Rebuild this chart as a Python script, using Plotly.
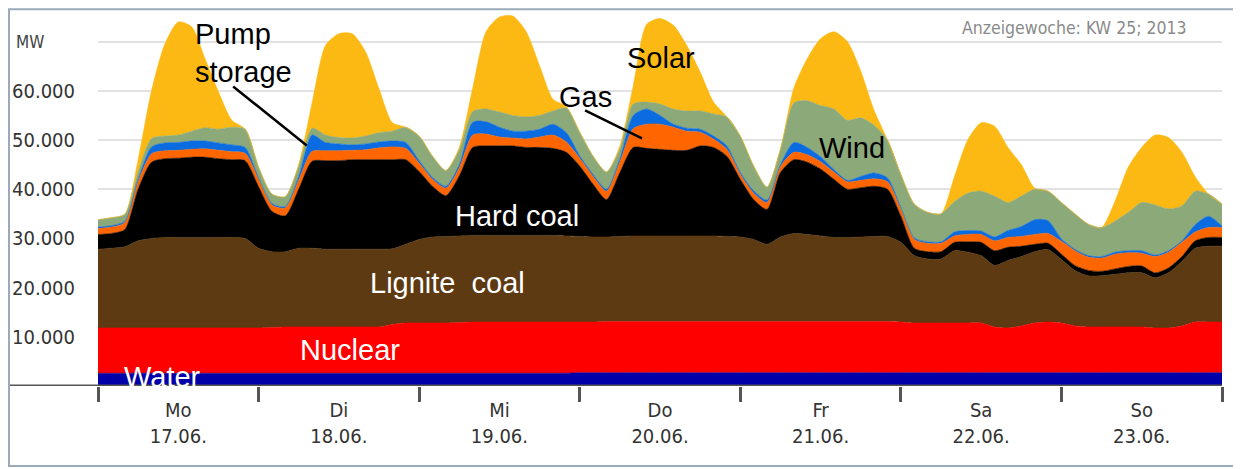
import plotly.graph_objects as go

# hours since Monday 17.06.2013 00:00, one sample every 2 h
hours = list(range(0, 169, 2))

# generation per source in MW (rows = Mo, Di, Mi, Do, Fr, Sa, So, last point)
water = [
    2600, 2600, 2600, 2600, 2600, 2600, 2600, 2600, 2600, 2600, 2600, 2600,
    2600, 2600, 2600, 2600, 2600, 2600, 2600, 2600, 2600, 2600, 2600, 2600,
    2600, 2600, 2600, 2600, 2600, 2600, 2600, 2600, 2600, 2600, 2600, 2600,
    2700, 2700, 2700, 2700, 2700, 2700, 2700, 2700, 2700, 2700, 2700, 2700,
    2700, 2700, 2700, 2700, 2700, 2700, 2700, 2700, 2700, 2700, 2700, 2700,
    2700, 2700, 2700, 2700, 2700, 2700, 2700, 2700, 2700, 2700, 2700, 2700,
    2700, 2700, 2700, 2700, 2700, 2700, 2700, 2700, 2700, 2700, 2700, 2700,
    2700,
]
nuclear = [
    9200, 9200, 9200, 9200, 9200, 9200, 9200, 9200, 9200, 9200, 9200, 9200,
    9200, 9300, 9400, 9400, 9400, 9400, 9400, 9400, 9400, 9400, 9900, 10200,
    10200, 10200, 10200, 10300, 10400, 10400, 10400, 10400, 10400, 10400, 10400, 10400,
    10300, 10300, 10400, 10400, 10400, 10400, 10400, 10400, 10400, 10400, 10400, 10400,
    10400, 10400, 10400, 10400, 10400, 10400, 10400, 10400, 10400, 10400, 10400, 10400,
    10300, 10100, 10100, 10100, 10100, 10100, 10100, 9300, 9100, 9500, 10100, 10300,
    10100, 9500, 9300, 9300, 9300, 9300, 9300, 9100, 9100, 9500, 10300, 10300,
    10300,
]
lignite = [
    16000, 16200, 16500, 17700, 18200, 18400, 18400, 18400, 18400, 18400, 18400, 18200,
    16200, 15400, 15300, 16000, 16000, 15800, 15800, 15800, 15800, 15800, 15400, 16000,
    17000, 17500, 17600, 17600, 17600, 17600, 17600, 17600, 17600, 17600, 17600, 17500,
    17400, 17300, 17200, 17300, 17400, 17400, 17400, 17400, 17400, 17400, 17400, 17300,
    17200, 16700, 15700, 17200, 17900, 17700, 17400, 17100, 17100, 17200, 17300, 17300,
    16200, 13700, 13000, 13000, 14700, 14400, 13700, 12500, 13700, 14100, 14500, 14700,
    12900, 11300, 10400, 10400, 10700, 11000, 11000, 10200, 11200, 13100, 15000, 15400,
    15400,
]
hard_coal = [
    3000, 3000, 3500, 10500, 15500, 16000, 16100, 16300, 16300, 16000, 15800, 15800,
    12500, 8200, 7300, 12000, 17700, 18000, 18000, 18200, 18200, 18200, 18100, 17200,
    13800, 10300, 8300, 12200, 17900, 18200, 18200, 18200, 17900, 17900, 17700, 17000,
    14300, 10700, 7600, 13000, 18000, 17800, 17600, 17400, 17400, 18300, 18000, 16300,
    11700, 8100, 7100, 13100, 15000, 14700, 13600, 11800, 9800, 10000, 10200, 9600,
    5300, 1500, 1500, 1500, 1700, 2100, 2700, 3000, 2700, 2100, 1500, 1300,
    1100, 1000, 1100, 900, 1100, 1300, 1400, 1000, 1000, 1000, 1500, 1800,
    1800,
]
gas = [
    1200, 1300, 1400, 1500, 1700, 1600, 1600, 1600, 1700, 1700, 1600, 1500,
    1500, 1300, 1600, 1800, 2000, 2000, 2000, 1900, 2000, 2400, 2600, 2300,
    1700, 1400, 1500, 1600, 2500, 2400, 1800, 1600, 1700, 2100, 2700, 2100,
    1600, 1600, 1700, 2100, 3800, 4900, 5100, 4700, 3900, 2800, 1700, 1400,
    1000, 1300, 1400, 1200, 1500, 1500, 1500, 1500, 1500, 1500, 1500, 1500,
    1400, 1800, 1700, 1700, 1300, 1500, 1600, 2000, 2000, 2000, 2000, 2000,
    2600, 3000, 2700, 2700, 3000, 2800, 2600, 3300, 3200, 2900, 1800, 2000,
    2000,
]
pump_storage = [
    300, 300, 300, 500, 1400, 1600, 1600, 1700, 1600, 1500, 1400, 1200,
    300, 300, 300, 800, 3300, 1700, 1400, 1100, 1200, 1200, 1200, 1200,
    500, 400, 400, 700, 2600, 2500, 2000, 1400, 1600, 1600, 2200, 1900,
    500, 400, 400, 700, 2700, 3100, 1800, 600, 600, 600, 600, 700,
    400, 500, 500, 400, 2000, 1500, 1000, 500, 300, 800, 1200, 800,
    400, 300, 300, 300, 800, 800, 700, 800, 1400, 2000, 3000, 2600,
    500, 300, 300, 300, 400, 400, 500, 300, 300, 300, 1500, 2300,
    300,
]
wind = [
    1500, 1600, 1400, 1500, 1700, 1400, 1500, 2000, 2700, 2800, 3600, 3700,
    2200, 1900, 2000, 2100, 1400, 1500, 1300, 1400, 1600, 1900, 2000, 3100,
    5000, 4300, 3200, 3000, 2200, 2600, 3100, 3200, 2900, 2800, 2700, 5000,
    4800, 3700, 3500, 1900, 2300, 1400, 2300, 3100, 3500, 3700, 4500, 5900,
    7400, 5000, 2600, 3100, 8000, 9500, 10400, 12300, 12200, 11900, 9700, 7700,
    6700, 6900, 6000, 5700, 6200, 7600, 8100, 8300, 5700, 6200, 6200, 6000,
    7400, 7200, 6400, 5900, 6300, 7800, 9800, 10200, 8500, 7100, 6800, 4500,
    4500,
]
solar = [
    0, 0, 0, 2500, 9700, 18700, 23000, 21200, 14000, 7600, 1400, 0,
    0, 0, 0, 300, 5100, 18200, 21100, 21200, 17100, 8900, 1700, 0,
    0, 0, 0, 500, 4700, 15700, 19300, 20200, 17300, 10100, 2400, 300,
    0, 0, 0, 700, 3700, 15800, 17400, 17000, 13300, 7900, 2400, 0,
    0, 0, 0, 0, 3000, 8500, 13600, 15700, 16000, 9500, 3000, 0,
    0, 0, 0, 0, 5000, 10800, 13900, 14200, 11200, 6400, 200, 0,
    0, 0, 0, 0, 4000, 9200, 11200, 14200, 14500, 10900, 2900, 0,
    0,
]

day_centers = [12, 36, 60, 84, 108, 132, 156]
day_labels = ["Mo<br>17.06.", "Di<br>18.06.", "Mi<br>19.06.", "Do<br>20.06.",
              "Fr<br>21.06.", "Sa<br>22.06.", "So<br>23.06."]
day_bounds = [0, 24, 48, 72, 96, 120, 144, 168]
y_ticks = [10000, 20000, 30000, 40000, 50000, 60000, 70000]
y_labels = ["10.000", "20.000", "30.000", "40.000", "50.000", "60.000", ""]

layers = [
    ("Water", water, "#0000A8"),
    ("Nuclear", nuclear, "#FF0000"),
    ("Lignite coal", lignite, "#5D3A11"),
    ("Hard coal", hard_coal, "#000000"),
    ("Gas", gas, "#FF6600"),
    ("Pump storage", pump_storage, "#0A6CE0"),
    ("Wind", wind, "#8CA97A"),
    ("Solar", solar, "#FDB913"),
]

TICK_FONT = "DejaVu Sans Condensed, DejaVu Sans, sans-serif"
LABEL_FONT = "Liberation Sans, Arial, sans-serif"

fig = go.Figure()
for name, values, color in layers:
    fig.add_trace(go.Scatter(
        x=hours, y=values, name=name, mode="lines",
        stackgroup="one",
        line=dict(width=0.6, color=color, shape="spline", smoothing=0.7),
        fillcolor=color, hoverinfo="skip",
    ))

# the page has an 8px body margin, so the figure is 8px smaller than the window
fig.update_layout(
    width=1233, height=461,
    margin=dict(l=90, r=19, t=0, b=83),
    paper_bgcolor="white", plot_bgcolor="white",
    showlegend=False,
)
fig.update_xaxes(
    range=[0, 168], tickmode="array", tickvals=day_centers, ticktext=day_labels,
    ticks="", ticklabelstandoff=10, showgrid=False, zeroline=False, automargin=False,
    tickfont=dict(family=TICK_FONT, size=20, color="#333333"),
    minor=dict(tickmode="array", tickvals=day_bounds, ticks="outside",
               ticklen=15, tickwidth=3, tickcolor="#555555", showgrid=False),
)
fig.update_yaxes(
    range=[0, 76830], tickmode="array", tickvals=y_ticks, ticktext=y_labels,
    ticks="", ticklabelstandoff=22, showgrid=True, gridcolor="#e2e2e2",
    gridwidth=1.5, zeroline=False, automargin=False,
    tickfont=dict(family=TICK_FONT, size=20, color="#333333"),
)

# baseline, running out to the left edge like in the source
fig.add_shape(type="line", xref="paper", yref="y", x0=-0.08, x1=1, y0=0, y1=0,
              line=dict(color="#555555", width=3))
# outer frame
fig.add_shape(type="rect", xref="paper", yref="paper", x0=-0.0792, x1=1.0142,
              y0=-0.2116, y1=0.997, line=dict(color="#9AAABB", width=2))
# pointer lines
fig.add_shape(type="line", x0=20.2, y0=60870, x1=31.2, y1=48900,
              line=dict(color="black", width=2.5))
fig.add_shape(type="line", x0=72.8, y0=56000, x1=81.3, y1=50320,
              line=dict(color="black", width=2.5))

fig.add_annotation(x=-0.075, xref="paper", y=70000, yref="y", text="MW",
                   showarrow=False, xanchor="left",
                   font=dict(family=TICK_FONT, size=17, color="#444444"))
fig.add_annotation(x=0.869, xref="paper", y=0.979, yref="paper", xanchor="center",
                   text="Anzeigewoche: KW 25; 2013", showarrow=False,
                   font=dict(family=TICK_FONT, size=17.5, color="#8a8a8a"))

labels = [
    ("Pump<br>storage", 14.2, 67770, "black", "left"),
    ("Solar", 84.2, 66750, "black", "center"),
    ("Gas", 72.9, 58840, "black", "center"),
    ("Wind", 112.7, 48290, "black", "center"),
    ("Hard coal", 62.6, 34490, "white", "center"),
    ("Lignite\u00a0 coal", 52.2, 20900, "white", "center"),
    ("Nuclear", 37.7, 7300, "white", "center"),
    ("Water", 9.7, 1830, "white", "center"),
]
for text, x, y, color, anchor in labels:
    fig.add_annotation(x=x, y=y, text=text, showarrow=False, xanchor=anchor,
                       align="left", font=dict(family=LABEL_FONT, size=29, color=color))

fig.write_html("out.html")
